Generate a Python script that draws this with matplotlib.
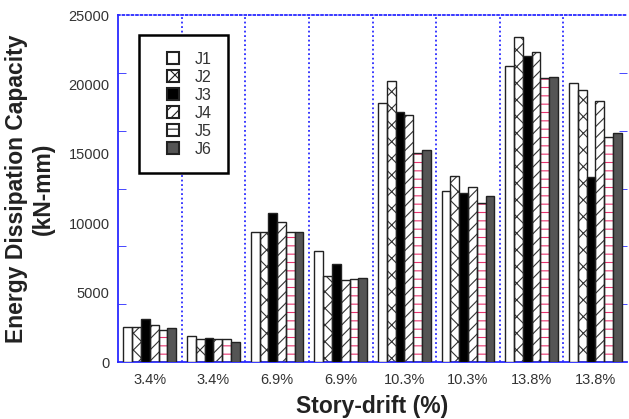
import matplotlib.pyplot as plt
from matplotlib.legend_handler import HandlerPatch
import numpy as np

# данные
drifts = ['3.4%', '3.4%', '6.9%', '6.9%', '10.3%', '10.3%', '13.8%', '13.8%']
J1 = [2520, 1870, 9370, 8020, 18680, 12340, 21350, 20120]
J2 = [2520, 1660, 9370, 6200, 20270, 13400, 23390, 19600]
J3 = [3100, 1730, 10730, 7060, 17990, 12150, 22050, 13300]
J4 = [2670, 1660, 10090, 5910, 17800, 12630, 22310, 18830]
J5 = [2300, 1660, 9370, 5980, 15040, 11430, 20440, 16230]
J6 = [2450, 1440, 9370, 6080, 15270, 11960, 20560, 16480]
names = ['J1', 'J2', 'J3', 'J4', 'J5', 'J6']
series = [J1, J2, J3, J4, J5, J6]

# стиль каждой серии: заливка, штриховка, цвет штриховки
styles = [
    ('white', None, 'black'),
    ('white', 'xx', '#333333'),
    ('black', None, 'black'),
    ('white', '///', '#333333'),
    ('white', '--', '#e8336f'),
    ('#555555', None, 'black'),
]


def square_right(legend, orig_handle, xdescent, ydescent, width, height, fontsize):
    """квадратик в легенде, прижатый вправо"""
    side = 0.85 * height
    return plt.Rectangle((width - side - xdescent, -ydescent + (height - side) / 2), side, side)


plt.rcParams['font.family'] = ['Liberation Sans', 'DejaVu Sans']
plt.rcParams['hatch.linewidth'] = 0.8
fig = plt.figure(figsize=(6.29, 4.19), dpi=100)
ax = fig.add_axes([0.1876, 0.136, 0.8094, 0.828])

x = np.arange(len(drifts))
w = 0.138
handles = []
for i, (vals, name, (fc, hatch, hc)) in enumerate(zip(series, names, styles)):
    pos = x + (i - 2.5) * w
    if hatch:
        # штриховка отдельным цветом, потом контур
        ax.bar(pos, vals, w, color=fc, hatch=hatch, edgecolor=hc, linewidth=0, zorder=2)
        ax.bar(pos, vals, w, fill=False, edgecolor='#222222', linewidth=1.0, zorder=3)
    else:
        ax.bar(pos, vals, w, color=fc, edgecolor='#222222', linewidth=1.0, zorder=3)
    handles.append(plt.Rectangle((0, 0), 1, 1, facecolor=fc, hatch=hatch,
                                 edgecolor='#222222', linewidth=1.5))

# пунктирные разделители групп
for b in np.arange(0.5, len(drifts) - 0.5, 1):
    ax.axvline(b, color='#2a2aff', linestyle=(0, (1, 1.5)), linewidth=1.3, zorder=1)

ax.set_xlim(-0.5, len(drifts) - 0.5)
ax.set_ylim(0, 25000)
ax.set_xticks(x)
ax.set_xticklabels(drifts, fontsize=10.5, color='#333333')
ax.set_yticks(np.arange(0, 25001, 5000))
ax.set_yticklabels([str(v) for v in range(0, 25001, 5000)], fontsize=10.5, color='#333333')
ax.tick_params(axis='y', length=0, pad=6)
ax.tick_params(axis='x', length=0, pad=8)
ax.set_yticks(np.linspace(0, 25000, 7), minor=True)
ax.tick_params(axis='y', which='minor', direction='in', length=6, color='#2a2aff',
               left=True, right=True)

for s in ['left', 'bottom']:
    ax.spines[s].set_color('#2a2aff')
    ax.spines[s].set_linewidth(1.3)
ax.spines['top'].set_color('#2a2aff')
ax.spines['top'].set_linestyle((0, (1, 1.5)))
ax.spines['top'].set_linewidth(1.3)
ax.spines['right'].set_visible(False)

ax.set_xlabel('Story-drift (%)', fontsize=16.5, fontweight='bold', color='#222222', labelpad=6)
ax.set_ylabel('Energy Dissipation Capacity\n(kN-mm)', fontsize=16.5, fontweight='bold',
              color='#222222', labelpad=10)

leg = ax.legend(handles, names, loc='upper left', bbox_to_anchor=(0.041, 0.942),
                fontsize=11.5, handlelength=1.5, handleheight=1.0, fancybox=False,
                framealpha=1, borderpad=1.0, borderaxespad=0, labelspacing=0.15,
                handletextpad=1.0,
                handler_map={plt.Rectangle: HandlerPatch(patch_func=square_right)})
leg.get_frame().set_edgecolor('black')
leg.get_frame().set_linewidth(1.8)
for t in leg.get_texts():
    t.set_color('#333333')
leg.set_zorder(5)

fig.savefig('out.png', dpi=100)
